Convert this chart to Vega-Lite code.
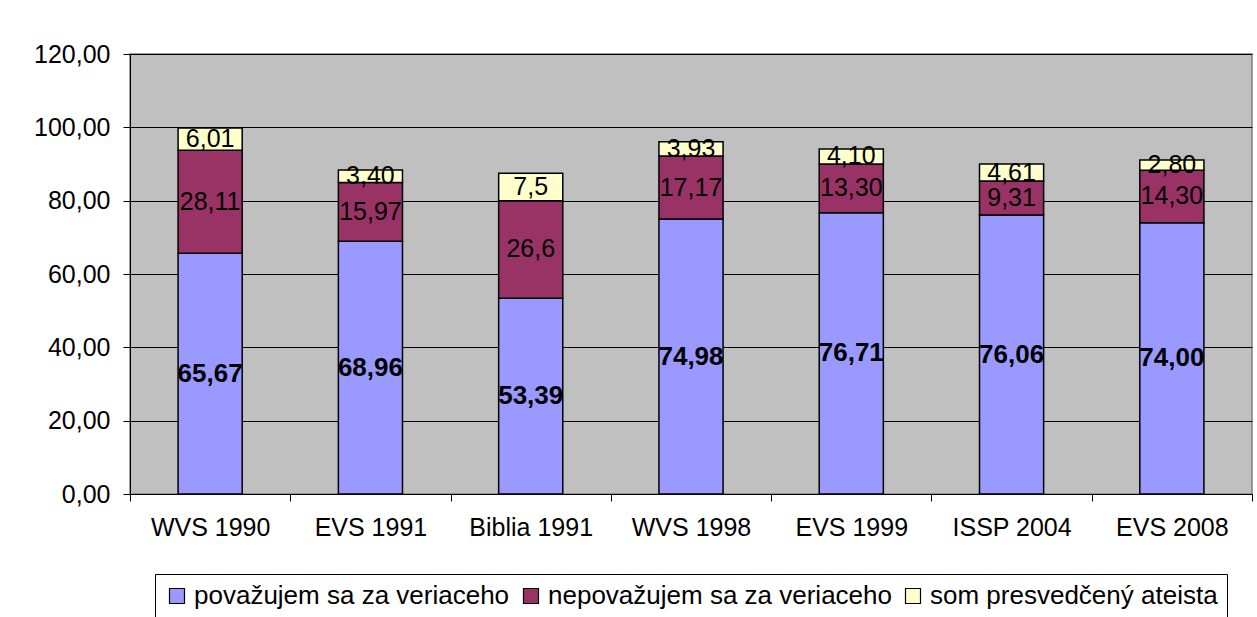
{
  "$schema": "https://vega.github.io/schema/vega-lite/v6.json",
  "width": 1122,
  "height": 440,
  "autosize": {"type": "none"},
  "padding": {"left": 130, "top": 54, "right": 5, "bottom": 123},
  "background": "white",
  "config": {
    "font": "Liberation Sans",
    "view": {"fill": "#c0c0c0", "stroke": "#808080", "strokeWidth": 1.5}
  },
  "data": {
    "values": [
      {"survey": "WVS 1990", "series": "považujem sa za veriaceho", "k": 1, "value": 65.67, "label": "65,67"},
      {"survey": "WVS 1990", "series": "nepovažujem sa za veriaceho", "k": 2, "value": 28.11, "label": "28,11"},
      {"survey": "WVS 1990", "series": "som presvedčený ateista", "k": 3, "value": 6.01, "label": "6,01"},
      {"survey": "EVS 1991", "series": "považujem sa za veriaceho", "k": 1, "value": 68.96, "label": "68,96"},
      {"survey": "EVS 1991", "series": "nepovažujem sa za veriaceho", "k": 2, "value": 15.97, "label": "15,97"},
      {"survey": "EVS 1991", "series": "som presvedčený ateista", "k": 3, "value": 3.40, "label": "3,40"},
      {"survey": "Biblia 1991", "series": "považujem sa za veriaceho", "k": 1, "value": 53.39, "label": "53,39"},
      {"survey": "Biblia 1991", "series": "nepovažujem sa za veriaceho", "k": 2, "value": 26.6, "label": "26,6"},
      {"survey": "Biblia 1991", "series": "som presvedčený ateista", "k": 3, "value": 7.5, "label": "7,5"},
      {"survey": "WVS 1998", "series": "považujem sa za veriaceho", "k": 1, "value": 74.98, "label": "74,98"},
      {"survey": "WVS 1998", "series": "nepovažujem sa za veriaceho", "k": 2, "value": 17.17, "label": "17,17"},
      {"survey": "WVS 1998", "series": "som presvedčený ateista", "k": 3, "value": 3.93, "label": "3,93"},
      {"survey": "EVS 1999", "series": "považujem sa za veriaceho", "k": 1, "value": 76.71, "label": "76,71"},
      {"survey": "EVS 1999", "series": "nepovažujem sa za veriaceho", "k": 2, "value": 13.30, "label": "13,30"},
      {"survey": "EVS 1999", "series": "som presvedčený ateista", "k": 3, "value": 4.10, "label": "4,10"},
      {"survey": "ISSP 2004", "series": "považujem sa za veriaceho", "k": 1, "value": 76.06, "label": "76,06"},
      {"survey": "ISSP 2004", "series": "nepovažujem sa za veriaceho", "k": 2, "value": 9.31, "label": "9,31"},
      {"survey": "ISSP 2004", "series": "som presvedčený ateista", "k": 3, "value": 4.61, "label": "4,61"},
      {"survey": "EVS 2008", "series": "považujem sa za veriaceho", "k": 1, "value": 74.00, "label": "74,00"},
      {"survey": "EVS 2008", "series": "nepovažujem sa za veriaceho", "k": 2, "value": 14.30, "label": "14,30"},
      {"survey": "EVS 2008", "series": "som presvedčený ateista", "k": 3, "value": 2.80, "label": "2,80"}
    ]
  },
  "encoding": {
    "x": {
      "field": "survey",
      "type": "nominal",
      "sort": null,
      "scale": {"paddingInner": 0, "paddingOuter": 0},
      "axis": {
        "title": null,
        "labelAngle": 0,
        "labelFontSize": 25,
        "labelColor": "black",
        "labelPadding": 14,
        "tickBand": "extent",
        "tickSize": 7,
        "tickColor": "black",
        "domainColor": "black",
        "domainWidth": 1,
        "grid": false
      }
    }
  },
  "layer": [
    {
      "mark": {"type": "bar", "width": {"band": 0.4}, "stroke": "black", "strokeWidth": 1.5},
      "encoding": {
        "y": {
          "field": "value",
          "type": "quantitative",
          "stack": "zero",
          "scale": {"domain": [0, 120]},
          "axis": {
            "title": null,
            "values": [0, 20, 40, 60, 80, 100, 120],
            "labelExpr": "replace(format(datum.value, '.2f'), '.', ',')",
            "labelFontSize": 25,
            "labelColor": "black",
            "labelPadding": 13,
            "tickSize": 7,
            "tickColor": "black",
            "domainColor": "black",
            "grid": true,
            "gridColor": "black",
            "gridWidth": 1,
            "gridOpacity": 1
          }
        },
        "color": {
          "field": "series",
          "type": "nominal",
          "sort": ["považujem sa za veriaceho", "nepovažujem sa za veriaceho", "som presvedčený ateista"],
          "scale": {
            "domain": ["považujem sa za veriaceho", "nepovažujem sa za veriaceho", "som presvedčený ateista"],
            "range": ["#9999ff", "#993366", "#ffffcc"]
          },
          "legend": {
            "title": null,
            "orient": "none",
            "legendX": 25,
            "legendY": 520,
            "direction": "horizontal",
            "columns": 3,
            "labelFontSize": 26,
            "labelColor": "black",
            "labelLimit": 0,
            "labelOffset": 4,
            "symbolType": "square",
            "symbolSize": 225,
            "symbolStrokeColor": "black",
            "symbolStrokeWidth": 1.2,
            "columnPadding": 8,
            "fillColor": "white",
            "strokeColor": "black",
            "padding": 9
          }
        },
        "order": {"field": "k", "type": "quantitative"}
      }
    },
    {
      "mark": {"type": "text", "fontSize": 26, "fontWeight": "bold", "color": "black"},
      "encoding": {
        "y": {"field": "value", "type": "quantitative", "stack": "zero", "bandPosition": 0.5},
        "detail": {"field": "series"},
        "order": {"field": "k", "type": "quantitative"},
        "text": {"condition": {"test": "datum.k == 1", "field": "label", "type": "nominal"}, "value": ""}
      }
    },
    {
      "mark": {"type": "text", "fontSize": 25, "fontWeight": "normal", "color": "black"},
      "encoding": {
        "y": {"field": "value", "type": "quantitative", "stack": "zero", "bandPosition": 0.5},
        "detail": {"field": "series"},
        "order": {"field": "k", "type": "quantitative"},
        "text": {"condition": {"test": "datum.k > 1", "field": "label", "type": "nominal"}, "value": ""}
      }
    }
  ]
}
